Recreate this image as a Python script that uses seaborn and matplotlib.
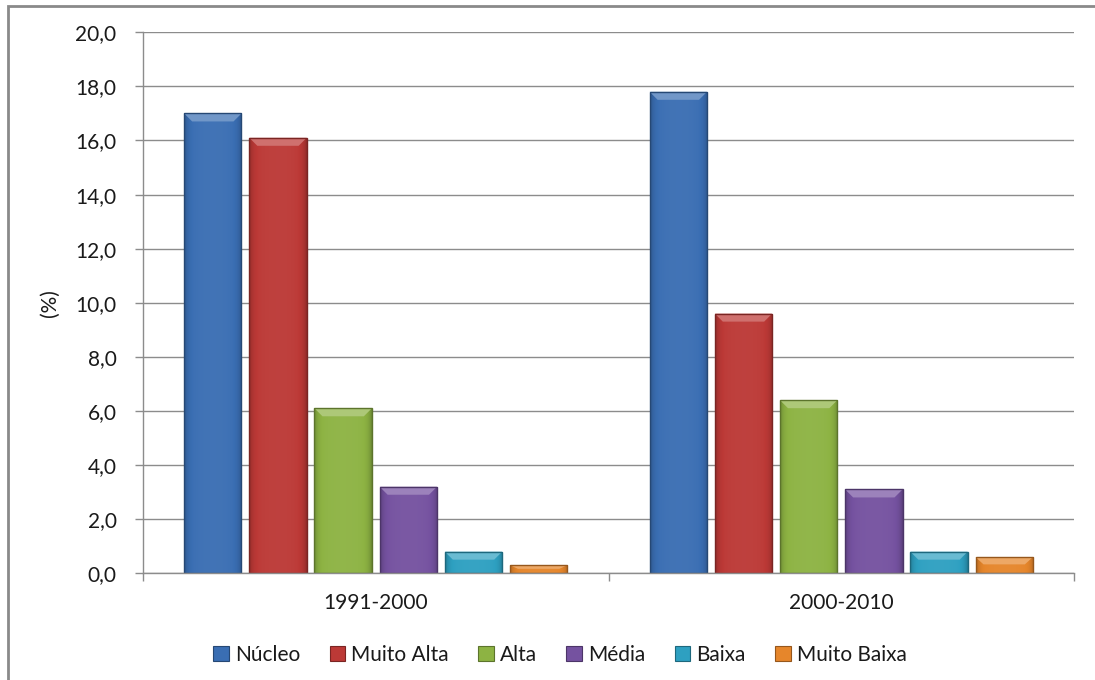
import numpy as np
import pandas as pd
import matplotlib
matplotlib.use("Agg")
import matplotlib.pyplot as plt
from matplotlib.patches import Rectangle, Polygon, Patch
from matplotlib.colors import to_rgb
from matplotlib.ticker import FuncFormatter, MultipleLocator, FixedLocator
import seaborn as sns

# ---- data -------------------------------------------------------------
periods = ["1991-2000", "2000-2010"]
categories = ["Núcleo", "Muito Alta", "Alta", "Média", "Baixa", "Muito Baixa"]
values_1991_2000 = [17.0, 16.1, 6.1, 3.2, 0.8, 0.3]
values_2000_2010 = [17.8, 9.6, 6.4, 3.1, 0.8, 0.6]
colors = ["#3A6EB3", "#BC3936", "#8DB343", "#7552A0", "#2EA0C1", "#E6862B"]

df = pd.DataFrame({
    "periodo": np.repeat(periods, len(categories)),
    "categoria": categories * len(periods),
    "valor": values_1991_2000 + values_2000_2010,
})
palette = dict(zip(categories, colors))

# ---- style ------------------------------------------------------------
sns.set_theme(style="white")
plt.rcParams["font.family"] = ["Lato", "DejaVu Sans"]
FS = 15
GRID = "#8C8C8C"

W, H = 1095, 680
fig = plt.figure(figsize=(W / 100, H / 100), dpi=100)
ax = fig.add_axes([143 / W, 1 - 573.3 / H, (1074 - 143) / W, (573.3 - 32.3) / H])

sns.barplot(data=df, x="periodo", y="valor", hue="categoria", order=periods,
            hue_order=categories, palette=palette, width=0.84, gap=0.12,
            saturation=1, edgecolor="none", linewidth=0, legend=False, ax=ax)

ax.set_ylim(0, 20)
ax.set_xlim(-0.5, 1.5)


def shade(c, f):
    c = np.array(to_rgb(c))
    if f >= 0:
        return tuple(c + (1 - c) * f)
    return tuple(c * (1 + f))


# Bevelled look on each bar: horizontal gradient, light top bevel, dark rim
bar_patches = [p for p in ax.patches if p.get_height() > 0]
px_x = 1.0 / (1074 - 143) * 2.0     # data units per pixel (x)
px_y = 20.0 / (573.3 - 32.3)        # data units per pixel (y)
for p in bar_patches:
    x, y0 = p.get_x(), p.get_y()
    w, h = p.get_width(), p.get_height()
    base = p.get_facecolor()[:3]
    t = np.linspace(0, 1, 64)
    prof = 0.04 * np.sin(np.pi * t) - 0.22 * (1 - np.sin(np.pi * t)) ** 5
    grad = np.array([shade(base, v) for v in prof])[None, :, :]
    im = ax.imshow(grad, extent=(x, x + w, y0, y0 + h), aspect="auto",
                   zorder=p.get_zorder() + 0.1, interpolation="bilinear")
    im.set_clip_path(p)
    dy = min(8 * px_y, h * 0.45)
    dx = min(8 * px_x, w * 0.3)
    top = y0 + h
    ax.add_patch(Polygon([(x, top), (x + w, top), (x + w - dx, top - dy),
                          (x + dx, top - dy)], closed=True,
                         facecolor=shade(base, 0.28), edgecolor="none",
                         zorder=p.get_zorder() + 0.2))
    ax.add_patch(Rectangle((x, y0), w, h, facecolor="none",
                           edgecolor=shade(base, -0.35), linewidth=1.0,
                           zorder=p.get_zorder() + 0.3))

ax.set_ylim(0, 20)
ax.set_xlim(-0.5, 1.5)

# ---- axes, grid, ticks -------------------------------------------------
ax.yaxis.set_major_locator(MultipleLocator(2))
ax.yaxis.set_major_formatter(FuncFormatter(lambda v, _: f"{v:.1f}".replace(".", ",")))
ax.grid(axis="y", color=GRID, linewidth=1.0)
ax.set_axisbelow(True)
for s in ["top", "right"]:
    ax.spines[s].set_visible(False)
for s in ["left", "bottom"]:
    ax.spines[s].set_color(GRID)
    ax.spines[s].set_linewidth(1.0)

ax.tick_params(axis="y", which="major", direction="out", length=6, width=1,
               color=GRID, pad=13, labelsize=FS, labelcolor="#1A1A1A", left=True)
ax.xaxis.set_minor_locator(FixedLocator([-0.5, 0.5, 1.5]))
ax.tick_params(axis="x", which="minor", direction="out", length=6, width=1,
               color=GRID, bottom=True)
ax.tick_params(axis="x", which="major", length=0, pad=14, labelsize=FS,
               labelcolor="#1A1A1A")

ax.set_xlabel("")
ax.set_ylabel("(%)", fontsize=FS, color="#1A1A1A", labelpad=11)

# ---- legend -------------------------------------------------------------
handles = [Patch(facecolor=c, edgecolor=shade(c, -0.35), linewidth=0.8, label=k)
           for k, c in zip(categories, colors)]
fig.legend(handles=handles, loc="center", bbox_to_anchor=(560 / W, 1 - 655 / H),
           ncol=len(categories), frameon=False, fontsize=FS,
           handlelength=0.75, handleheight=0.75, handletextpad=0.3,
           columnspacing=1.4, labelcolor="#1A1A1A")

# ---- outer chart border (top and left edges visible) -------------------
fig.add_artist(Rectangle((8 / W, -0.1), 1.2, 1.1 - 6 / H, transform=fig.transFigure,
                         facecolor="none", edgecolor="#8A8A8A", linewidth=2.0))

fig.savefig("out.png", dpi=100, facecolor="white")
